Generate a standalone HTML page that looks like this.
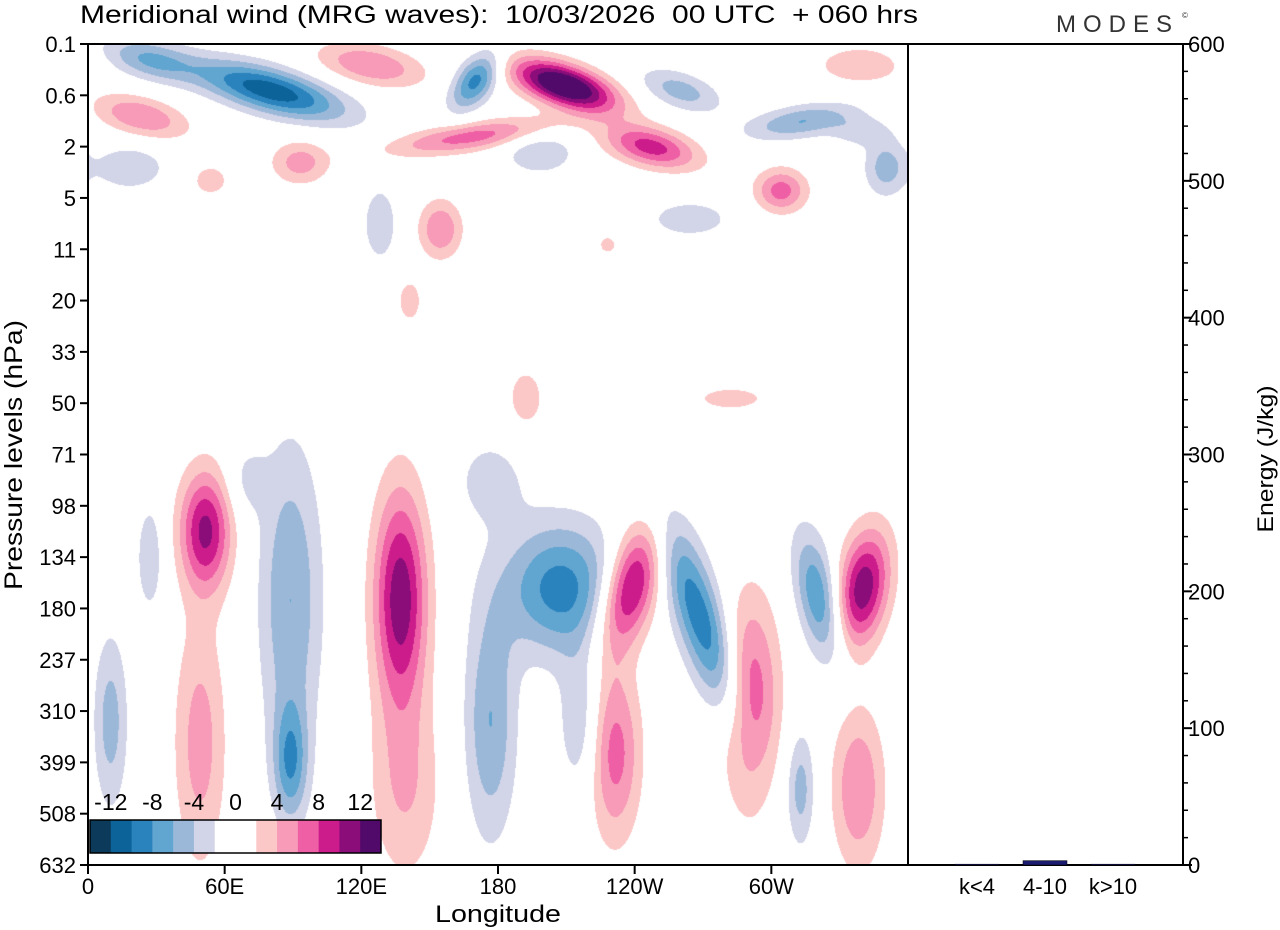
<!DOCTYPE html>
<html><head><meta charset="utf-8">
<style>
body{margin:0;background:#fff;width:1280px;height:930px;overflow:hidden;font-family:"Liberation Sans",sans-serif;}
#wrap{position:relative;width:1280px;height:930px;}
canvas{position:absolute;left:88px;top:44px;}
svg{position:absolute;left:0;top:0;}
</style></head><body>
<div id="wrap">
<canvas id="cv" width="820" height="821"></canvas>
<svg id="sv" width="1280" height="930"></svg>
</div>
<script>
// ---- data ----
const levelLabels=["0.1","0.6","2","5","11","20","33","50","71","98","134","180","237","310","399","508","632"];
const lonLabels=["0","60E","120E","180","120W","60W"];
const lonTicks=[0,60,120,180,240,300];
const colorLevels=[-14,-12,-10,-8,-6,-4,-2,0,2,4,6,8,10,12,14];
const colorFills=["#0b3a5a","#0c6399","#2a83bd","#61a5d1","#9bb8d8","#d2d4e8","#ffffff","#ffffff","#fcc8c7","#f79bb8","#ef5fa5","#cc1c8b","#8a0d7a","#520a6a"];
const cbLabels=[-12,-8,-4,0,4,8,12];
// wave packets: centre longitude, level index, amplitude (m/s), lon width, level width, tilt (deg per level)
const blobLon=[51.4,49,137,139,238,231,290.6,340,338,192,282, 88.7,88.7,207,176.5,268.7,320.5,9.7,27,216,312.6,176.5,69, 80,27,170,209,168,124,23,247,260,313,339,93,18,304,350,198,154.5,128,264,53.5,141,228,339];
const blobLev=[9.47,13.6,10.8,14.5,10.6,13.8,12.8,10.6,14.5,6.9,6.9, 10.8,14,10.6,13.2,11.2,10.8,13.2,10,13.2,14.5,8.5,8.5, 0.9,0.3,0.7,0.8,1.8,0.4,1.4,2,0.9,1.5,0.4,2.3,2.4,2.85,2.4,2.1,3.6,3.5,3.4,2.65,5,3.9,1.7];
const blobAmp=[10.5,5,11.5,4,11.5,7,8,11.5,6,3,2.5, -6,-7,-9,-6,-9.5,-8,-5,-3.5,-4,-5,-3,-2.5, -11.5,-6,-9,16,7,6,6,9,-5,-6,4,5,-4,7,-5,-4,6,-4,-3,3,3,2.5,-3];
const blobSx=[8,8,8.3,11,8.3,8,8.8,8,8,6.6,17, 9.7,5.3,17.6,8,8,6.6,5.3,4.4,6.6,4.4,11,6.6, 17.6,13,6.6,13,20,15,13,13,11,15,13,9,11,8,6.6,11,6.6,5,15,6.6,4.4,4.4,9];
const blobSy=[0.82,1.7,1.5,1.3,0.85,1.2,1.4,0.8,1.1,0.5,0.25, 2.1,0.8,0.9,1.6,1.4,0.9,1.2,0.8,1,0.8,0.6,0.5, 0.4,0.3,0.4,0.35,0.25,0.3,0.3,0.3,0.3,0.25,0.25,0.3,0.3,0.3,0.4,0.3,0.4,0.5,0.3,0.25,0.35,0.2,0.2];
const blobTilt=[0,0,0,0,-5,0,0,-3,0,0,0, 0,0,0,0,6.9,4,0,0,0,0,0,0, 35,20,-10,25,-60,20,20,20,20,-30,0,0,0,0,0,0,0,0,0,0,0,0,0];
// energy bars
const energyCats=["k<4","4-10","k>10"];
const energyVals=[0.6,3.2,0.6];

// ---- drawing ----
const W=820,H=821,X0=88,Y0=44;
const lonToX=l=>X0+l/360*W;
const levToY=i=>Y0+i*(H/16);
const cv=document.getElementById('cv'),ctx=cv.getContext('2d');
const img=ctx.createImageData(W,H);
const rgb=colorFills.map(c=>[parseInt(c.substr(1,2),16),parseInt(c.substr(3,2),16),parseInt(c.substr(5,2),16)]);
for(let py=0;py<H;py++){
  const lev=py/(H/16);
  for(let px=0;px<W;px++){
    const lon=px/W*360;let v=0;
    for(let b=0;b<blobLon.length;b++){
      const dl=lev-blobLev[b];
      if(Math.abs(dl)>4*blobSy[b])continue;
      let dx=lon-(blobLon[b]+blobTilt[b]*dl);
      if(dx>180)dx-=360;if(dx<-180)dx+=360;
      const a=dx/blobSx[b],c=dl/blobSy[b];
      v+=blobAmp[b]*Math.exp(-0.5*(a*a+c*c));
    }
    let k=0;while(k<colorFills.length-1&&v>colorLevels[k+1])k++;
    const o=(py*W+px)*4,col=rgb[k];
    img.data[o]=col[0];img.data[o+1]=col[1];img.data[o+2]=col[2];img.data[o+3]=255;
  }
}
ctx.putImageData(img,0,0);

const NS="http://www.w3.org/2000/svg",sv=document.getElementById('sv');
function mk(t,a,txt){const e=document.createElementNS(NS,t);for(const k in a)e.setAttribute(k,a[k]);if(txt!==undefined)e.textContent=txt;sv.appendChild(e);return e;}
let e;
e=mk('text',{x:80,y:23,'font-size':25,'textLength':838,'lengthAdjust':'spacingAndGlyphs',style:'white-space:pre'},"Meridional wind (MRG waves):  10/03/2026  00 UTC  + 060 hrs");


e=mk('text',{x:1056,y:32,'font-size':24,fill:'#333','letter-spacing':'7'},"MODES");


mk('text',{x:1182,y:18,'font-size':8,fill:'#333'},"©");
// frames
e=mk('rect',{x:X0,y:Y0,width:W,height:H,fill:'none',stroke:'#000','stroke-width':2});


e=mk('rect',{x:908,y:Y0,width:275,height:H,fill:'none',stroke:'#000','stroke-width':2});


// y axis
levelLabels.forEach((l,i)=>{const y=levToY(i);
 mk('line',{x1:X0-8,x2:X0,y1:y,y2:y,stroke:'#000','stroke-width':2});
 e=mk('text',{x:X0-12,y:y+8,'font-size':22,'text-anchor':'end'},l);
 
 
});
e=mk('text',{x:0,y:0,'font-size':25,'text-anchor':'middle','textLength':270,'lengthAdjust':'spacingAndGlyphs',transform:'translate(22,455) rotate(-90)'},"Pressure levels (hPa)");


// x axis
lonTicks.forEach((l,i)=>{const x=lonToX(l);
 mk('line',{x1:x,x2:x,y1:Y0+H,y2:Y0+H+9,stroke:'#000','stroke-width':2});
 e=mk('text',{x:x,y:894,'font-size':22,'text-anchor':'middle'},lonLabels[i]);
 
 
});
e=mk('text',{x:498,y:922,'font-size':24,'text-anchor':'middle','textLength':126,'lengthAdjust':'spacingAndGlyphs'},"Longitude");


// colorbar
const cbX=90,cbW=291,cbY=820,cbH=33,bw=cbW/colorFills.length;
colorFills.forEach((c,i)=>{e=mk('rect',{x:cbX+i*bw,y:cbY,width:bw+0.5,height:cbH,fill:c});
 
 });
mk('rect',{x:cbX,y:cbY,width:cbW,height:cbH,fill:'none',stroke:'#000','stroke-width':1.5});
cbLabels.forEach(v=>{const x=cbX+(v-colorLevels[0])/(colorLevels[colorLevels.length-1]-colorLevels[0])*cbW;
 e=mk('text',{x:x,y:810,'font-size':23,'text-anchor':'middle'},String(v));
 
 });
// energy axis
const eY=v=>Y0+H-v/600*H;
for(let v=0;v<=600;v+=20){const y=eY(v),maj=v%100===0;
 mk('line',{x1:1183,x2:1183+(maj?9:5),y1:y,y2:y,stroke:'#000','stroke-width':maj?2:1.5});
 if(maj){e=mk('text',{x:1188,y:y+8,'font-size':22},String(v));
 
 }}
e=mk('text',{x:0,y:0,'font-size':22,'text-anchor':'middle','textLength':147,'lengthAdjust':'spacingAndGlyphs',transform:'translate(1273,459) rotate(-90)'},"Energy (J/kg)");


const catX=[977,1045,1113];
energyCats.forEach((c,i)=>{const cx=catX[i];
 e=mk('rect',{x:cx-22,y:eY(energyVals[i]),width:44,height:Math.max(1,eY(0)-eY(energyVals[i])),fill:'#1a1a6e',stroke:'#000','stroke-width':0.5});
 
 
 e=mk('text',{x:cx,y:894,'font-size':22,'text-anchor':'middle'},c);
 
 });
</script>
</body></html>
